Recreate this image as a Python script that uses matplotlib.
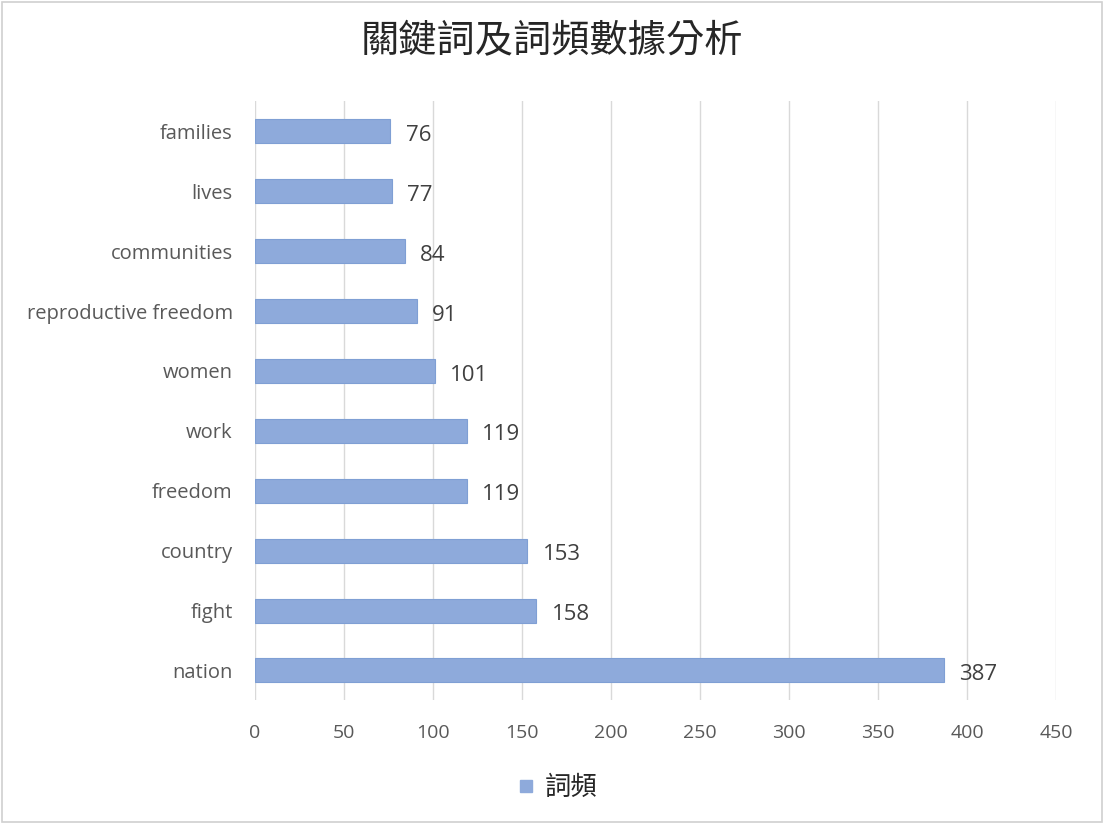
import matplotlib
matplotlib.use("Agg")
import matplotlib.pyplot as plt
from matplotlib.lines import Line2D

categories = ["nation", "fight", "country", "freedom", "work", "women",
              "reproductive freedom", "communities", "lives", "families"]
values = [387, 158, 153, 119, 119, 101, 91, 84, 77, 76]
xticks = [0, 50, 100, 150, 200, 250, 300, 350, 400, 450]
title = "關鍵詞及詞頻數據分析"
series_name = "詞頻"

plt.rcParams['font.family'] = ['Noto Sans CJK TC', 'DejaVu Sans']

fig = plt.figure(figsize=(11.04, 8.24), dpi=100)
fig.patch.set_facecolor('white')
ax = fig.add_axes([0.231, 0.150, 0.7255, 0.727])

bar_color = '#8eaadb'
edge_color = '#7f9fd4'
y = list(range(len(categories)))
ax.barh(y, values, height=0.4, color=bar_color, edgecolor=edge_color, linewidth=0.8, zorder=3)

for yi, v in zip(y, values):
    ax.annotate(str(v), xy=(v, yi), xytext=(11, -3), textcoords='offset points',
                ha='left', va='center', fontsize=16, color='#404040',
                family=['Open Sans', 'DejaVu Sans'])

ax.set_xlim(0, 450)
ax.set_ylim(-0.5, len(categories) - 0.5)
ax.set_xticks(xticks)
ax.set_xticklabels([str(t) for t in xticks], family=['Open Sans', 'DejaVu Sans'])
ax.set_yticks(y)
ax.set_yticklabels(categories, family=['Open Sans', 'DejaVu Sans'])
ax.tick_params(axis='x', length=0, pad=17, labelsize=14, labelcolor='#595959')
ax.tick_params(axis='y', length=0, pad=16, labelsize=14.5, labelcolor='#595959')
ax.xaxis.grid(True, color='#d9d9d9', linewidth=1.0, zorder=0)
ax.set_axisbelow(True)
for s in ax.spines.values():
    s.set_visible(False)

fig.text(0.5, 0.950, title, ha='center', va='center', fontsize=27.5, color='#262626')

handle = Line2D([0], [0], marker='s', linestyle='none', markersize=9,
                markerfacecolor=bar_color, markeredgecolor=bar_color)
fig.legend([handle], [series_name], loc='center', bbox_to_anchor=(0.497, 0.044),
           frameon=False, fontsize=19, handletextpad=-0.3, labelcolor='#262626')

border = plt.Rectangle((0.002, 0.002), 0.996, 0.996, transform=fig.transFigure,
                       fill=False, edgecolor='#d0d0d0', linewidth=1.2)
fig.patches.append(border)

fig.savefig("out.png", dpi=100)
